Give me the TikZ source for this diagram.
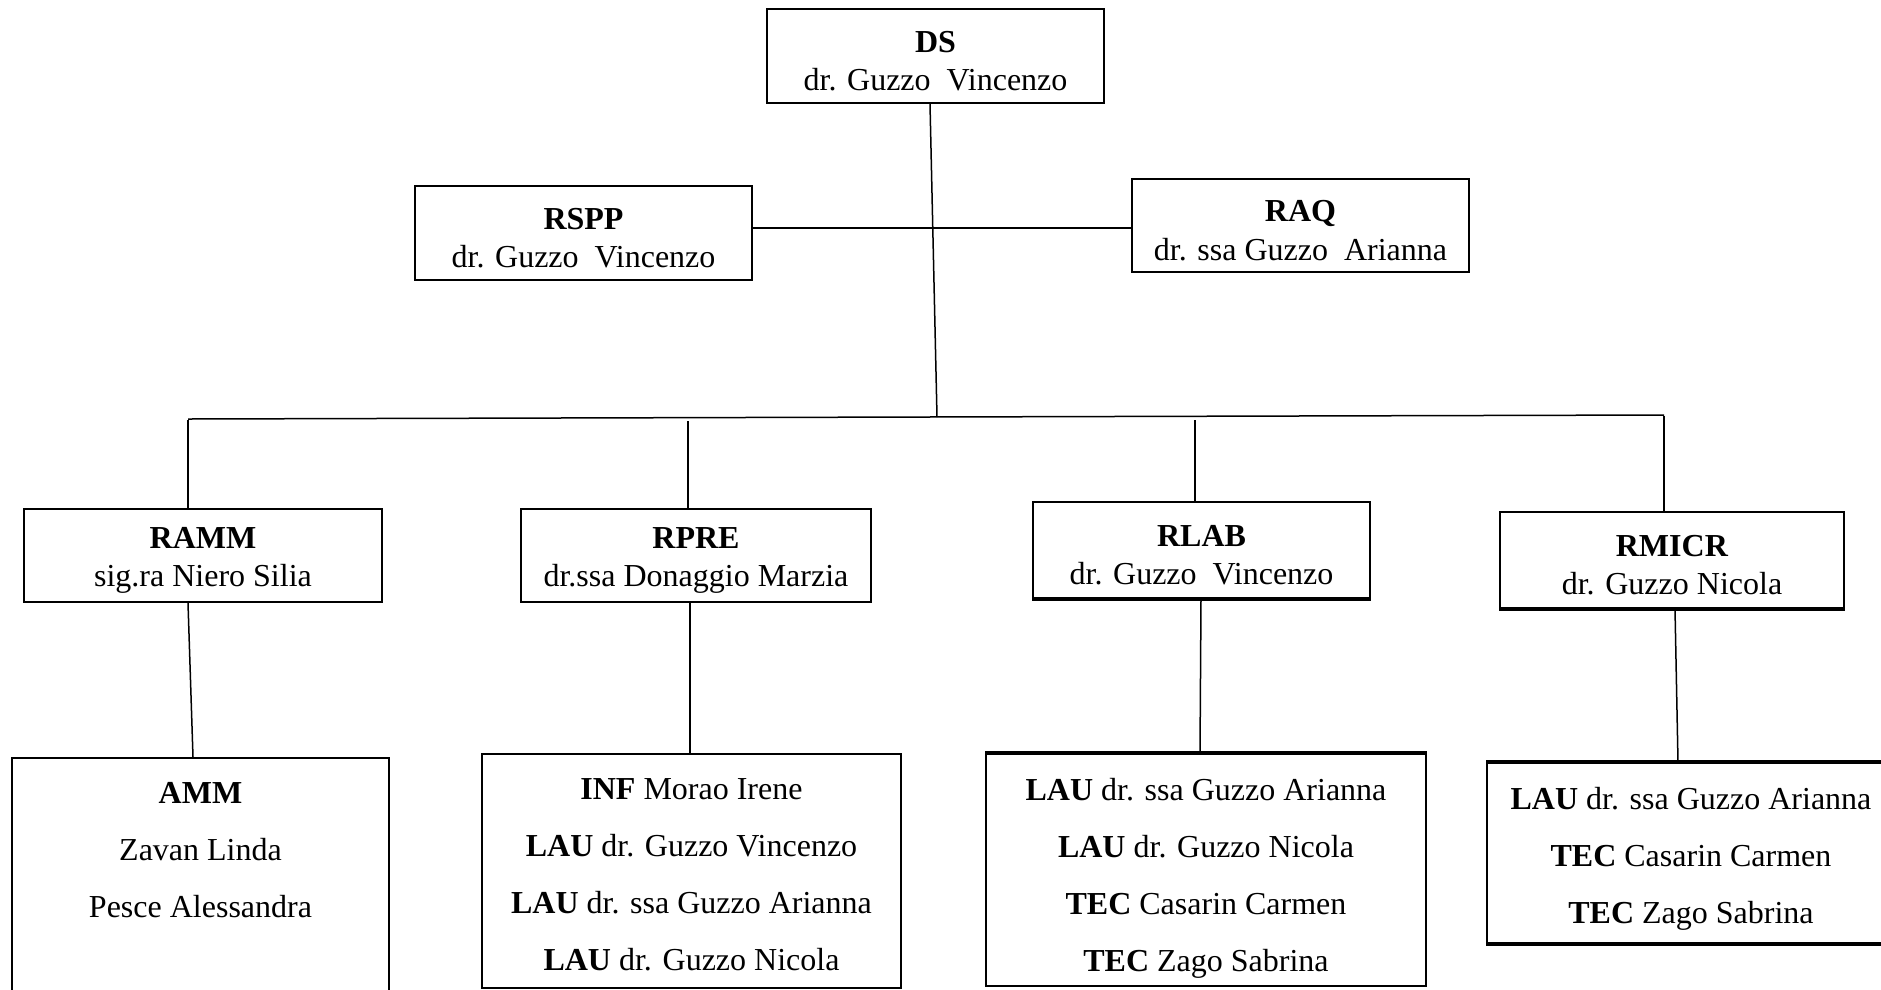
\documentclass[tikz,border=0pt]{standalone}
\usepackage{fontspec}
\setmainfont{Liberation Serif}
\begin{document}
\begin{tikzpicture}[x=1pt,y=-1pt,
  frame/.style={draw, line width=2pt, inner sep=0pt},
  boxtext/.style={inner sep=0pt, align=center, font=\fontsize{32}{38.5}\selectfont, yshift=-5pt},
  listtext/.style={inner sep=0pt, align=center, font=\fontsize{32}{57}\selectfont},
  link/.style={line width=1.5pt},
  heavy/.style={line width=4pt}
]
\useasboundingbox[fill=white] (0,0) rectangle (1881,989);

% top level
\node[frame, minimum width=337pt, minimum height=94pt] (ds) at (935.5,56) {};
\node[boxtext] (dst) at (ds.center) {\textbf{DS}\\dr. Guzzo\ \ Vincenzo};
\node[frame, minimum width=337pt, minimum height=94pt] (rspp) at (583.5,233) {};
\node[boxtext] (rsppt) at (rspp.center) {\textbf{RSPP}\\dr. Guzzo\ \ Vincenzo};
\node[frame, minimum width=337pt, minimum height=93pt] (raq) at (1300.5,225.5) {};
\node[boxtext] (raqt) at (raq.center) {\textbf{RAQ}\\dr. ssa Guzzo\ \ Arianna};

% middle level
\node[frame, minimum width=358pt, minimum height=93pt] (ramm) at (203,555.5) {};
\node[boxtext] (rammt) at (ramm.center) {\textbf{RAMM}\\sig.ra Niero Silia};
\node[frame, minimum width=350pt, minimum height=93pt] (rpre) at (696,555.5) {};
\node[boxtext] (rpret) at (rpre.center) {\textbf{RPRE}\\dr.ssa Donaggio Marzia};
\node[frame, minimum width=337pt, minimum height=96pt] (rlab) at (1201.5,550) {};
\node[boxtext] (rlabt) at (rlab.center) {\textbf{RLAB}\\dr. Guzzo\ \ Vincenzo};
\node[frame, minimum width=344pt, minimum height=96pt] (rmicr) at (1672,560) {};
\node[boxtext] (rmicrt) at (rmicr.center) {\textbf{RMICR}\\dr. Guzzo Nicola};

% bottom level boxes
\node[frame, minimum width=377pt, minimum height=252pt] (amm) at (200.5,884) {};
\node[frame, minimum width=419pt, minimum height=234pt] (inf) at (691.5,871) {};
\node[frame, minimum width=440pt, minimum height=232pt] (lau3) at (1206,870) {};
\node[frame, minimum width=408pt, minimum height=180pt] (lau4) at (1691,853) {};

\draw[heavy] (lau3.north west) -- (lau3.north east);
\draw[heavy] (lau4.north west) -- (lau4.north east);
\draw[heavy] (lau4.south west) -- (lau4.south east);
\draw[line width=3pt] (rlab.south west) -- (rlab.south east);
\draw[line width=3pt] (rmicr.south west) -- (rmicr.south east);

% bottom texts
\node[listtext, anchor=north] (t1) at ([yshift=-25pt]amm.north) {\textbf{AMM}\\Zavan Linda\\Pesce Alessandra};
\node[listtext, anchor=north] (t2) at ([yshift=-25pt]inf.north) {\textbf{INF} Morao Irene\\\textbf{LAU} dr. Guzzo Vincenzo\\\textbf{LAU} dr. ssa Guzzo Arianna\\\textbf{LAU} dr. Guzzo Nicola};
\node[listtext, anchor=north] (t3) at ([yshift=-25pt]lau3.north) {\textbf{LAU} dr. ssa Guzzo Arianna\\\textbf{LAU} dr. Guzzo Nicola\\\textbf{TEC} Casarin Carmen\\\textbf{TEC} Zago Sabrina};
\node[listtext, anchor=north] (t4) at ([yshift=-25pt]lau4.north) {\textbf{LAU} dr. ssa Guzzo Arianna\\\textbf{TEC} Casarin Carmen\\\textbf{TEC} Zago Sabrina};

% bus coordinates
\coordinate (busM) at (937,417);
\coordinate (busL) at (188,419);
\coordinate (busR) at (1664,415);
\coordinate (d1) at (188,420);
\coordinate (d2) at (688,421);
\coordinate (d3) at (1195,420);
\coordinate (d4) at (1664,416);

% connectors
\draw[link] ([xshift=-5.5pt]ds.south) -- (busM);
\draw[line width=2.5pt] ([yshift=5pt]rspp.east) -- ([yshift=-2.5pt]raq.west);
\draw[link] (busL) -- (busR);
\draw[link] (d1) -- (d1 |- ramm.north);
\draw[link] (d2) -- (d2 |- rpre.north);
\draw[link] (d3) -- (d3 |- rlab.north);
\draw[link] (d4) -- (d4 |- rmicr.north);

\draw[link] ([xshift=-15pt]ramm.south) -- ([xshift=-7.5pt]amm.north);
\draw[line width=2.5pt] ([xshift=-6pt]rpre.south) -- ([xshift=-1.5pt]inf.north);
\draw[link] ([xshift=-0.5pt]rlab.south) -- ([xshift=-6pt]lau3.north);
\draw[link] ([xshift=3pt]rmicr.south) -- ([xshift=-13pt]lau4.north);
\end{tikzpicture}
\end{document}
